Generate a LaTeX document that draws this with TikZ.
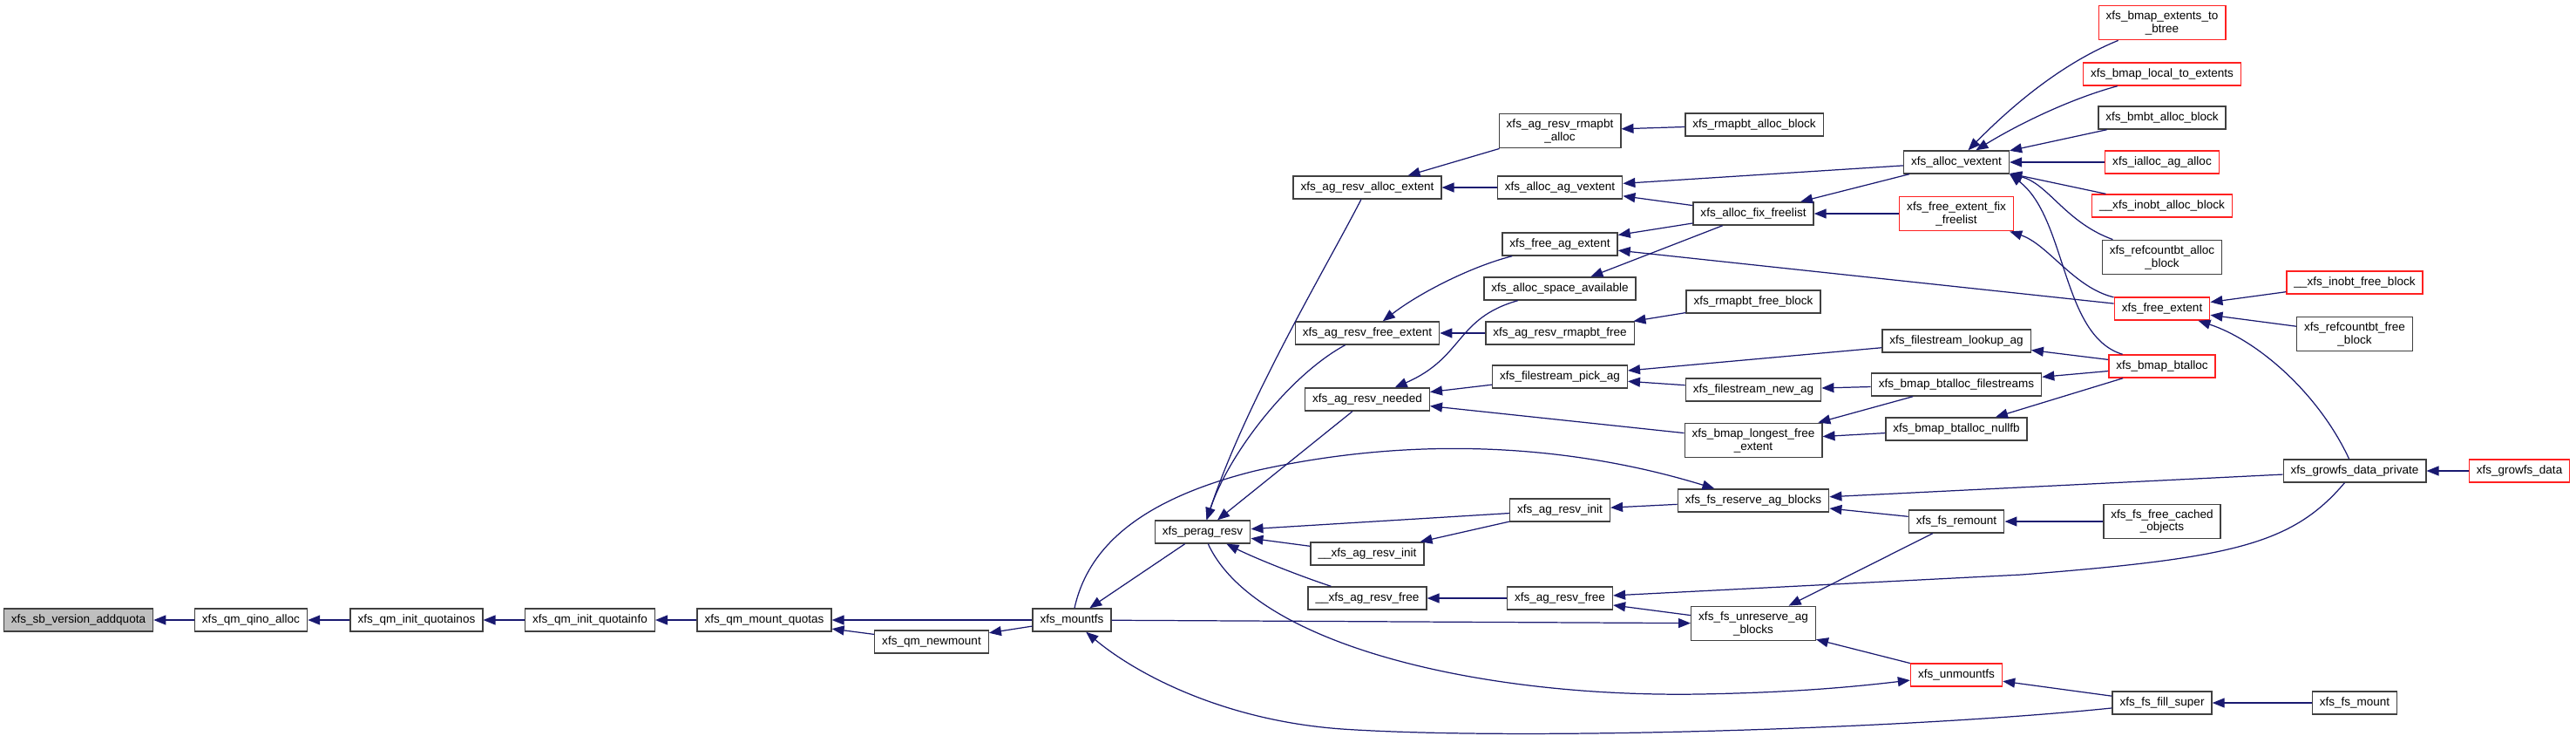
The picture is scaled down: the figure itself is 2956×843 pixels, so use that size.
\documentclass[tikz,border=0pt]{standalone}
\usepackage{fontspec}
\setmainfont{Liberation Sans}
\usepackage{xcolor}
\definecolor{edgeblue}{HTML}{191970}
\definecolor{rootgray}{HTML}{BFBFBF}
\definecolor{boxline}{HTML}{404040}
\definecolor{truncred}{HTML}{FF2020}
\usepackage{tikz}
\usetikzlibrary{arrows.meta}

\begin{document}
\begin{tikzpicture}[
  x=0.02cm, y=-0.02cm,
  box/.style={draw=boxline,line width=0.8pt,fill=white,minimum height=0.52cm,inner xsep=0.17cm,inner ysep=0.12cm,align=center,font=\fontsize{7.7}{8.5}\selectfont},
  redbox/.style={box,draw=truncred},
  rootbox/.style={box,fill=rootgray},
  arrow/.style={-{Triangle[length=0.28cm,width=0.22cm]},color=edgeblue,line width=0.7pt}
]
  \useasboundingbox (0,0) rectangle (2956,843);

  % Callee chain
  \node[rootbox] (addquota) at (90,711) {xfs\_sb\_version\_addquota};
  \node[box] (qinoalloc) at (288,711) {xfs\_qm\_qino\_alloc};
  \node[box] (initquotainos) at (478,711) {xfs\_qm\_init\_quotainos};
  \node[box] (initquotainfo) at (677,711) {xfs\_qm\_init\_quotainfo};
  \node[box] (mountquotas) at (877,711) {xfs\_qm\_mount\_quotas};
  \node[box] (newmount) at (1069,736) {xfs\_qm\_newmount};
  \node[box] (mountfs) at (1230,711) {xfs\_mountfs};
  \node[box] (peragresv) at (1380,610) {xfs\_perag\_resv};

  % Reservation callers
  \node[box] (resvallocext) at (1569,215) {xfs\_ag\_resv\_alloc\_extent};
  \node[box] (resvfreeext) at (1569,382) {xfs\_ag\_resv\_free\_extent};
  \node[box] (resvneeded) at (1569,458) {xfs\_ag\_resv\_needed};
  \node[box] (uresvinit) at (1569,635) {\_\_xfs\_ag\_resv\_init};
  \node[box] (uresvfree) at (1569,686) {\_\_xfs\_ag\_resv\_free};

  \node[box] (resvrmapalloc) at (1790,150) {xfs\_ag\_resv\_rmapbt\\\_alloc};
  \node[box] (allocagvext) at (1790,215) {xfs\_alloc\_ag\_vextent};
  \node[box] (freeagext) at (1790,280) {xfs\_free\_ag\_extent};
  \node[box] (spaceavail) at (1790,331) {xfs\_alloc\_space\_available};
  \node[box] (resvrmapfree) at (1790,382) {xfs\_ag\_resv\_rmapbt\_free};
  \node[box] (pickag) at (1790,432) {xfs\_filestream\_pick\_ag};
  \node[box] (resvinit) at (1790,585) {xfs\_ag\_resv\_init};
  \node[box] (resvfree) at (1790,686) {xfs\_ag\_resv\_free};

  \node[box] (rmapallocblk) at (2013,143) {xfs\_rmapbt\_alloc\_block};
  \node[box] (fixfreelist) at (2012,245) {xfs\_alloc\_fix\_freelist};
  \node[box] (rmapfreeblk) at (2012,346) {xfs\_rmapbt\_free\_block};
  \node[box] (newag) at (2012,447) {xfs\_filestream\_new\_ag};
  \node[box] (longestfree) at (2012,505) {xfs\_bmap\_longest\_free\\\_extent};
  \node[box] (reserveblks) at (2012,574) {xfs\_fs\_reserve\_ag\_blocks};
  \node[box] (unreserveblks) at (2012,715) {xfs\_fs\_unreserve\_ag\\\_blocks};

  \node[box] (allocvext) at (2245,186) {xfs\_alloc\_vextent};
  \node[redbox] (freefixfreelist) at (2245,245) {xfs\_free\_extent\_fix\\\_freelist};
  \node[box] (lookupag) at (2245,391) {xfs\_filestream\_lookup\_ag};
  \node[box] (btallocfs) at (2245,441) {xfs\_bmap\_btalloc\_filestreams};
  \node[box] (btallocnullfb) at (2245,492) {xfs\_bmap\_btalloc\_nullfb};
  \node[box] (remount) at (2245,598) {xfs\_fs\_remount};
  \node[redbox] (unmountfs) at (2245,774) {xfs\_unmountfs};

  % Outer callers
  \node[redbox] (extbtree) at (2481,26) {xfs\_bmap\_extents\_to\\\_btree};
  \node[redbox] (localext) at (2481,85) {xfs\_bmap\_local\_to\_extents};
  \node[box] (bmbtalloc) at (2481,135) {xfs\_bmbt\_alloc\_block};
  \node[redbox] (iallocag) at (2481,186) {xfs\_ialloc\_ag\_alloc};
  \node[redbox] (inobtalloc) at (2481,236) {\_\_xfs\_inobt\_alloc\_block};
  \node[box] (refcntalloc) at (2481,295) {xfs\_refcountbt\_alloc\\\_block};
  \node[redbox] (freeextent) at (2481,354) {xfs\_free\_extent};
  \node[redbox] (btalloc) at (2481,420) {xfs\_bmap\_btalloc};
  \node[box] (freecached) at (2481,598) {xfs\_fs\_free\_cached\\\_objects};
  \node[box] (fillsuper) at (2481,806) {xfs\_fs\_fill\_super};

  \node[redbox] (inobtfree) at (2702,324) {\_\_xfs\_inobt\_free\_block};
  \node[box] (refcntfree) at (2702,383) {xfs\_refcountbt\_free\\\_block};
  \node[box] (growfspriv) at (2702,540) {xfs\_growfs\_data\_private};
  \node[box] (fsmount) at (2702,806) {xfs\_fs\_mount};
  \node[redbox] (growfsdata) at (2891,540) {xfs\_growfs\_data};

  % Calls into the chain
  \draw[arrow] (qinoalloc) -- (addquota);
  \draw[arrow] (initquotainos) -- (qinoalloc);
  \draw[arrow] (initquotainfo) -- (initquotainos);
  \draw[arrow] (mountquotas) -- (initquotainfo);
  \draw[arrow] (mountfs) -- (mountquotas);
  \draw[arrow] (newmount) -- (mountquotas);
  \draw[arrow] (mountfs) -- (newmount);
  \draw[arrow] (peragresv) -- (mountfs);
  \draw[arrow] (mountfs) -- (unreserveblks);
  \draw[arrow] (mountfs) .. controls (1250,620) and (1320,570) .. (1440,540) .. controls (1640,495) and (1820,515) .. (reserveblks);
  \draw[arrow] (fillsuper) .. controls (2200,835) and (1750,850) .. (1540,836) .. controls (1400,826) and (1300,770) .. (mountfs);
  \draw[arrow] (peragresv) .. controls (1440,740) and (1700,800) .. (1950,796) .. controls (2070,794) and (2140,786) .. (unmountfs);

  % Calls into xfs_perag_resv
  \draw[arrow] (resvallocext) .. controls (1520,310) and (1430,460) .. (peragresv);
  \draw[arrow] (resvfreeext) .. controls (1480,430) and (1410,520) .. (peragresv);
  \draw[arrow] (resvneeded) -- (peragresv);
  \draw[arrow] (resvinit) -- (peragresv);
  \draw[arrow] (uresvinit) -- (peragresv);
  \draw[arrow] (uresvfree) .. controls (1490,660) and (1440,640) .. (peragresv);

  \draw[arrow] (resvrmapalloc) -- (resvallocext);
  \draw[arrow] (allocagvext) -- (resvallocext);
  \draw[arrow] (freeagext) .. controls (1690,305) and (1630,335) .. (resvfreeext);
  \draw[arrow] (resvrmapfree) -- (resvfreeext);
  \draw[arrow] (spaceavail) .. controls (1670,365) and (1680,410) .. (resvneeded);
  \draw[arrow] (pickag) -- (resvneeded);
  \draw[arrow] (longestfree) -- (resvneeded);
  \draw[arrow] (resvinit) -- (uresvinit);
  \draw[arrow] (resvfree) -- (uresvfree);

  \draw[arrow] (rmapallocblk) -- (resvrmapalloc);
  \draw[arrow] (fixfreelist) -- (allocagvext);
  \draw[arrow] (fixfreelist) -- (freeagext);
  \draw[arrow] (fixfreelist) -- (spaceavail);
  \draw[arrow] (rmapfreeblk) -- (resvrmapfree);
  \draw[arrow] (newag) -- (pickag);
  \draw[arrow] (reserveblks) -- (resvinit);
  \draw[arrow] (unreserveblks) -- (resvfree);

  \draw[arrow] (allocvext) -- (allocagvext);
  \draw[arrow] (allocvext) -- (fixfreelist);
  \draw[arrow] (freefixfreelist) -- (fixfreelist);
  \draw[arrow] (lookupag) -- (pickag);
  \draw[arrow] (btallocfs) -- (newag);
  \draw[arrow] (btallocfs) -- (longestfree);
  \draw[arrow] (btallocnullfb) -- (longestfree);
  \draw[arrow] (remount) -- (reserveblks);
  \draw[arrow] (remount) -- (unreserveblks);
  \draw[arrow] (unmountfs) -- (unreserveblks);

  % Outer calls
  \draw[arrow] (extbtree) .. controls (2360,75) and (2300,130) .. (allocvext);
  \draw[arrow] (localext) .. controls (2380,112) and (2320,140) .. (allocvext);
  \draw[arrow] (bmbtalloc) -- (allocvext);
  \draw[arrow] (iallocag) -- (allocvext);
  \draw[arrow] (inobtalloc) -- (allocvext);
  \draw[arrow] (refcntalloc) .. controls (2370,255) and (2350,210) .. (allocvext.south east);
  \draw[arrow] (btalloc) .. controls (2365,385) and (2372,250) .. (allocvext.south east);
  \draw[arrow] (freeextent) .. controls (2380,330) and (2350,280) .. (freefixfreelist);
  \draw[arrow] (freeextent) -- (freeagext);
  \draw[arrow] (btalloc) -- (lookupag);
  \draw[arrow] (btalloc) -- (btallocfs);
  \draw[arrow] (btalloc) -- (btallocnullfb);
  \draw[arrow] (freecached) -- (remount);
  \draw[arrow] (fillsuper) -- (unmountfs);

  \draw[arrow] (inobtfree) -- (freeextent);
  \draw[arrow] (refcntfree) -- (freeextent);
  \draw[arrow] (growfspriv) .. controls (2660,450) and (2590,390) .. (freeextent);
  \draw[arrow] (growfspriv) -- (reserveblks);
  \draw[arrow] (growfspriv) .. controls (2630,625) and (2560,640) .. (2320,659) -- (resvfree);
  \draw[arrow] (growfsdata) -- (growfspriv);
  \draw[arrow] (fsmount) -- (fillsuper);
\end{tikzpicture}
\end{document}
